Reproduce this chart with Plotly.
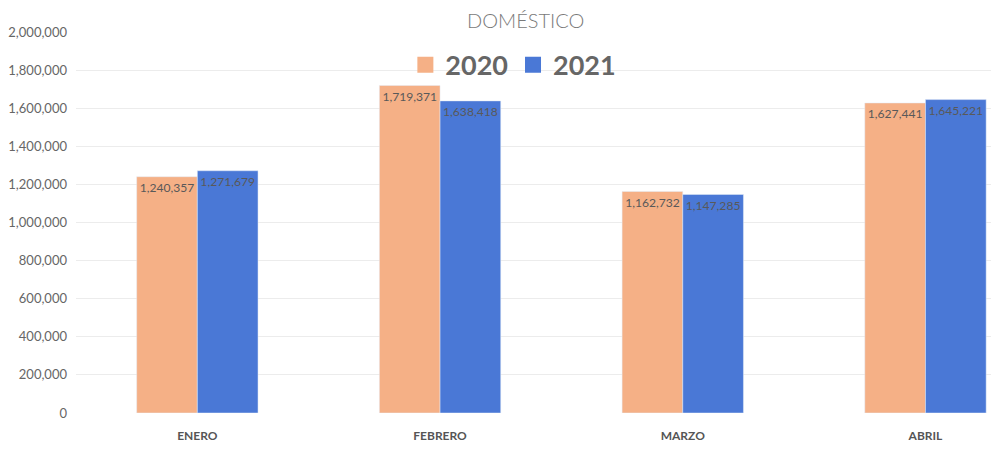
import plotly.graph_objects as go

categories = ["ENERO", "FEBRERO", "MARZO", "ABRIL"]
values_2020 = [1240357, 1719371, 1162732, 1627441]
values_2021 = [1271679, 1638418, 1147285, 1645221]
y_ticks = [0, 200000, 400000, 600000, 800000, 1000000, 1200000, 1400000, 1600000, 1800000, 2000000]
series = [("2020", values_2020, "#F5B086"), ("2021", values_2021, "#4A78D6")]

FONT = "Lato"
W, H = 991, 451
ml, mr, mt, mb = 76, 0, 32, 38

fig = go.Figure()
for name, vals, color in series:
    fig.add_trace(go.Bar(
        name=name, x=categories, y=vals, marker_color=color, showlegend=False,
        text=[f"{v:,}" for v in vals], textposition="inside",
        insidetextanchor="end", textangle=0,
        textfont=dict(family=FONT, size=14, color="#595959"),
    ))
for name, vals, color in series:
    fig.add_trace(go.Scatter(
        name=name, x=[None], y=[None], mode="markers",
        marker=dict(symbol="square", size=17, color=color),
        showlegend=True, hoverinfo="skip",
    ))

fig.update_layout(
    width=W, height=H,
    margin=dict(l=ml, r=mr, t=mt, b=mb, autoexpand=False),
    paper_bgcolor="white", plot_bgcolor="white",
    barmode="group", bargap=0.5, bargroupgap=0,
    font=dict(family=FONT, color="#595959"),
    legend=dict(
        orientation="h", x=0.478, xanchor="center", y=0.913, yanchor="middle",
        font=dict(family=FONT, size=27, color="#666666", weight="bold"),
        bgcolor="rgba(0,0,0,0)", itemwidth=30, tracegroupgap=0,
    ),
    annotations=[dict(
        text="DOMÉSTICO", xref="paper", yref="paper",
        x=(525 - ml) / (W - ml - mr), y=(H - mb - 20) / (H - mt - mb),
        xanchor="center", yanchor="middle", showarrow=False,
        font=dict(family=FONT, size=20, color="#7a7a7a", weight=300),
    )],
)
fig.update_xaxes(
    range=[-0.5, 3.27], showgrid=False, showline=False, ticks="", automargin=False,
    tickfont=dict(family=FONT, size=12, color="#555555", weight="bold"),
    ticklabelstandoff=14,
)
fig.update_yaxes(
    range=[0, 2000000], tickvals=y_ticks, tickformat=",", automargin=False,
    showgrid=True, gridcolor="#ececec", gridwidth=1, zeroline=False,
    tickfont=dict(family=FONT, size=13, color="#666666"),
    ticklabelstandoff=8,
)

fig.write_html(
    "out.html",
    config={"displayModeBar": False},
    post_script="document.body.style.margin='0';document.body.style.padding='0';",
)
